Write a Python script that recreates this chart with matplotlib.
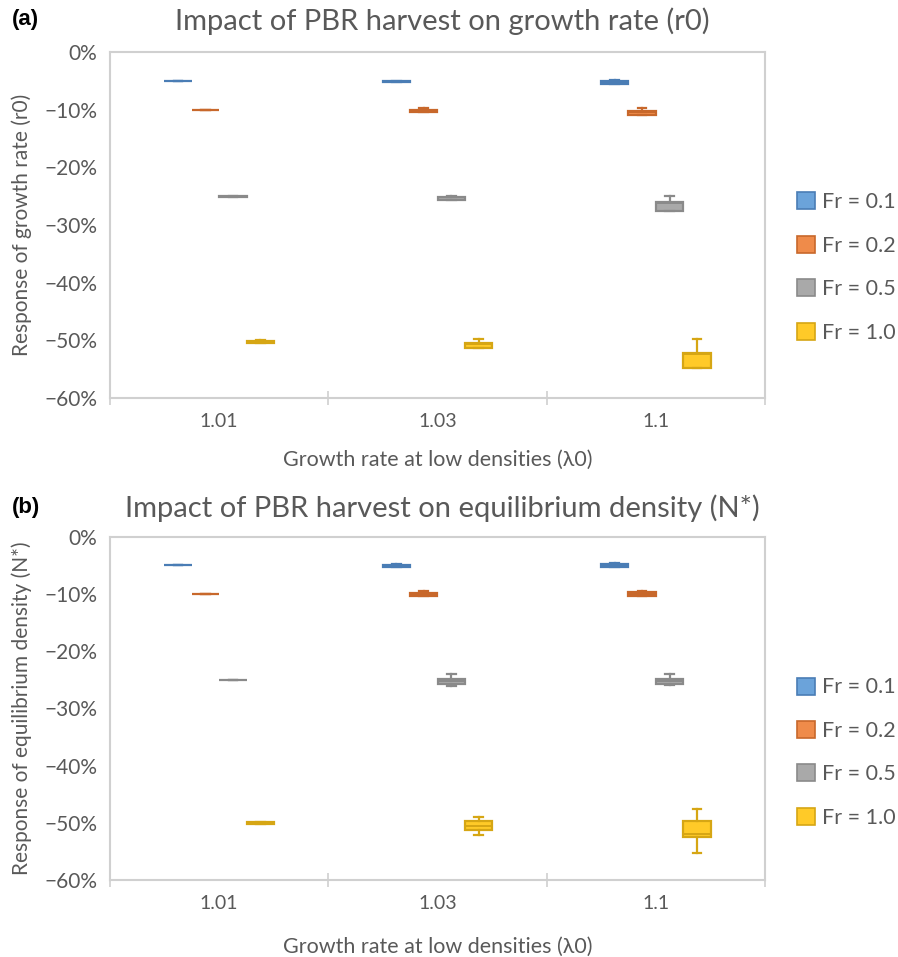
"""
Box plots of the response of r0 and N* to PBR harvest,
for three growth rates at low density and four Fr levels.
"""

import numpy as np
import matplotlib
matplotlib.use("Agg")
import matplotlib.pyplot as plt
from matplotlib.patches import Patch

plt.rcParams["font.family"] = ["Lato", "DejaVu Sans"]

# ============================================================
# DATA (percent response)
# rows: Fr = 0.1, 0.2, 0.5, 1.0 ; columns: lambda0 = 1.01, 1.03, 1.1
# ============================================================

lambdas = ["1.01", "1.03", "1.1"]
fr_labels = ["Fr = 0.1", "Fr = 0.2", "Fr = 0.5", "Fr = 1.0"]

# panel (a): growth rate r0
a_whishi = [[-5.0, -5.0, -4.9], [-10.0, -9.8, -9.8], [-24.9, -24.9, -24.9], [-50.0, -49.8, -49.8]]
a_q3 = [[-5.0, -5.0, -5.1], [-10.0, -10.0, -10.3], [-25.0, -25.1, -26.1], [-50.1, -50.5, -52.2]]
a_med = [[-5.0, -5.1, -5.2], [-10.0, -10.1, -10.4], [-25.0, -25.2, -26.2], [-50.2, -50.6, -52.3]]
a_q1 = [[-5.0, -5.2, -5.6], [-10.0, -10.4, -11.0], [-25.1, -25.6, -27.5], [-50.4, -51.4, -54.8]]
a_whislo = [[-5.0, -5.2, -5.6], [-10.0, -10.4, -11.0], [-25.1, -25.6, -27.5], [-50.4, -51.4, -54.8]]

# panel (b): equilibrium density N*
b_whishi = [[-5.0, -4.8, -4.6], [-10.0, -9.4, -9.4], [-25.0, -24.0, -24.0], [-49.8, -49.0, -47.6]]
b_q3 = [[-5.0, -4.9, -4.8], [-10.0, -9.8, -9.7], [-25.0, -24.8, -24.8], [-49.9, -49.7, -49.7]]
b_med = [[-5.0, -5.0, -5.0], [-10.0, -10.0, -10.0], [-25.0, -25.2, -25.2], [-50.0, -50.5, -51.9]]
b_q1 = [[-5.0, -5.2, -5.2], [-10.0, -10.3, -10.3], [-25.0, -25.7, -25.7], [-50.2, -51.3, -52.5]]
b_whislo = [[-5.0, -5.2, -5.2], [-10.0, -10.3, -10.3], [-25.0, -26.0, -25.9], [-50.3, -52.2, -55.2]]

# ============================================================
# STYLE
# ============================================================

face_colors = ["#6BA3DA", "#EF8B4A", "#A9A9A9", "#FFCA28"]
edge_colors = ["#4A7DB5", "#C8682B", "#8A8A8A", "#D6A614"]
text_col = "#595959"
axis_col = "#D0D0D0"

offsets = [-0.189, -0.063, 0.063, 0.189]
box_w = 0.125


def draw_panel(ax, whishi, q3, med, q1, whislo, title, ylabel, tag,
               title_y, tag_y, xlabel_y, legend_y):
    x = np.arange(len(lambdas))
    for i in range(len(fr_labels)):
        stats = []
        for j in range(len(lambdas)):
            stats.append(dict(med=med[i][j], q1=q1[i][j], q3=q3[i][j],
                              whislo=whislo[i][j], whishi=whishi[i][j]))
        ec = edge_colors[i]
        ax.bxp(stats, positions=x + offsets[i], widths=box_w,
               patch_artist=True, showfliers=False, manage_ticks=False,
               capwidths=0.04,
               boxprops=dict(facecolor=face_colors[i], edgecolor=ec, linewidth=1.6),
               whiskerprops=dict(color=ec, linewidth=1.6),
               capprops=dict(color=ec, linewidth=1.6),
               medianprops=dict(color=ec, linewidth=1.4))

    ax.set_xlim(-0.5, len(lambdas) - 0.5)
    ax.set_ylim(-60, 0)
    ax.set_yticks(np.arange(-60, 1, 10))
    ax.set_yticklabels([("\u2212%d%%" % -v) if v < 0 else "0%" for v in range(-60, 1, 10)])
    ax.set_xticks(x)
    ax.set_xticklabels(lambdas)
    ax.set_xticks(np.arange(-0.5, len(lambdas), 1.0), minor=True)
    ax.tick_params(axis="y", which="major", length=0, labelsize=15,
                   labelcolor=text_col, pad=9)
    ax.tick_params(axis="x", which="major", length=0, labelsize=14,
                   labelcolor=text_col, pad=10.5)
    ax.tick_params(axis="x", which="minor", length=10, width=1.2,
                   direction="inout", color=axis_col)
    for s in ax.spines.values():
        s.set_color(axis_col)
        s.set_linewidth(1.5)

    ax.set_xlabel("Growth rate at low densities (\u03bb0)", fontsize=15.5, color=text_col)
    ax.xaxis.set_label_coords(0.5, xlabel_y)
    ax.xaxis.label.set_va("center")
    ax.set_ylabel(ylabel, fontsize=15, color=text_col)
    ax.yaxis.set_label_coords(-0.135, 0.5)
    ax.yaxis.label.set_va("center")

    fig = ax.figure
    fig.text(0.493, title_y, title, fontsize=21, color=text_col,
             ha="center", va="center")
    fig.text(0.013, tag_y, tag, fontsize=16, fontweight="bold",
             family=["Liberation Sans", "DejaVu Sans"],
             color="black", ha="left", va="center")

    handles = [Patch(facecolor=face_colors[i], edgecolor=edge_colors[i],
                     linewidth=1.2, label=fr_labels[i]) for i in range(len(fr_labels))]
    ax.legend(handles=handles, loc="center left", bbox_to_anchor=(1.049, legend_y),
              frameon=False, borderpad=0, borderaxespad=0, fontsize=15.5,
              labelcolor=text_col, handlelength=0.84, handleheight=0.84,
              handletextpad=0.3, labelspacing=1.09)


# ============================================================
# PLOT
# ============================================================

fig = plt.figure(figsize=(8.98, 9.57), dpi=100)

ax_a = fig.add_axes([0.1225, 0.5841, 0.7294, 0.3616])
ax_b = fig.add_axes([0.1225, 0.0805, 0.7294, 0.3585])

draw_panel(ax_a, a_whishi, a_q3, a_med, a_q1, a_whislo,
           "Impact of PBR harvest on growth rate (r0)",
           "Response of growth rate (r0)", "(a)",
           title_y=1 - 21 / 957, tag_y=1 - 20 / 957,
           xlabel_y=-0.179, legend_y=0.377)

draw_panel(ax_b, b_whishi, b_q3, b_med, b_q1, b_whislo,
           "Impact of PBR harvest on equilibrium density (N*)",
           "Response of equilibrium density (N*)", "(b)",
           title_y=1 - 508 / 957, tag_y=1 - 507 / 957,
           xlabel_y=-0.195, legend_y=0.371)

fig.savefig("out.png", dpi=100)
